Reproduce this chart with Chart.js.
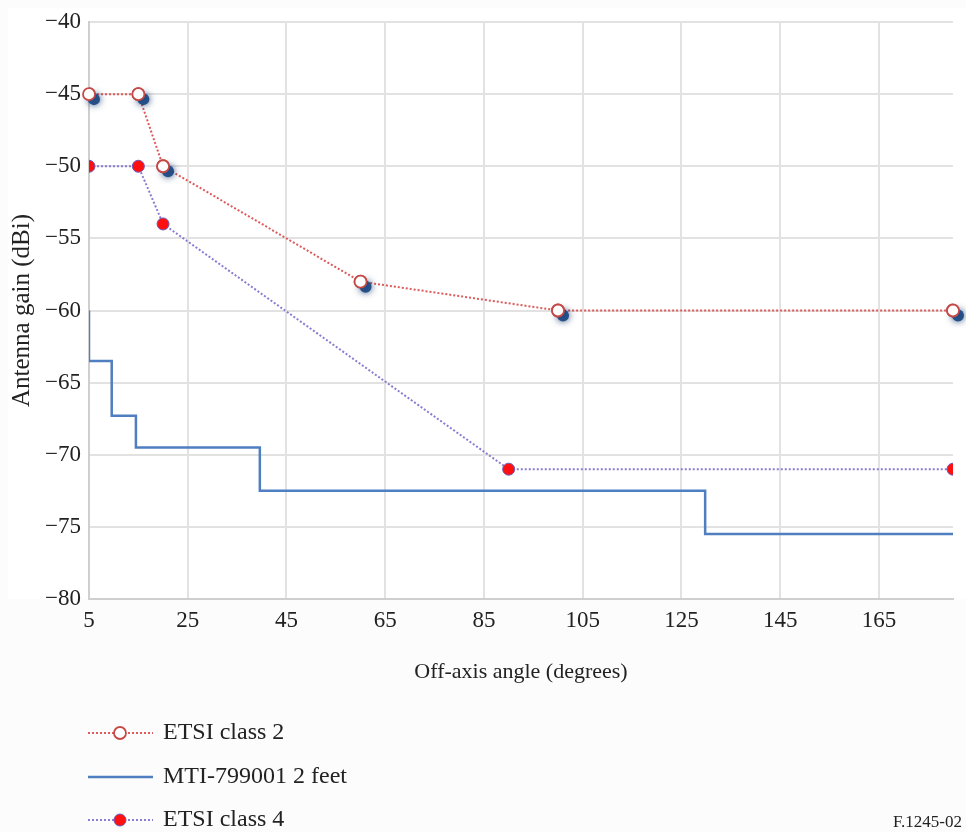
<!DOCTYPE html>
<html>
<head>
<meta charset="utf-8">
<script src="https://cdn.jsdelivr.net/npm/chart.js@4/dist/chart.umd.min.js"></script>
<style>
  html, body { margin: 0; padding: 0; background: #fcfcfc; }
  #wrap { width: 966px; height: 832px; position: relative; }
</style>
</head>
<body>
<div id="wrap"><canvas id="gain"></canvas></div>
<script>
  // Values
  const xTicks = [5, 25, 45, 65, 85, 105, 125, 145, 165];
  const etsi2Angle = [5, 15, 20, 60, 100, 180];
  const etsi2Gain = [-45, -45, -50, -58, -60, -60];
  const etsi4Angle = [5, 15, 20, 90, 180];
  const etsi4Gain = [-50, -50, -54, -71, -71];
  // MTI step pattern (corner points, stepped 'before')
  const mtiAngle = [5, 5, 9.6, 14.5, 39.6, 129.8, 180];
  const mtiGain = [-60, -63.5, -67.3, -69.5, -72.5, -75.5, -75.5];

  const serif = '"Liberation Serif", "DejaVu Serif", serif';
  const pts = (xs, ys) => xs.map((x, i) => ({ x: x, y: ys[i] }));
  const fmt = (v) => (v < 0 ? '\u2212' + Math.abs(v) : String(v));

  // White plot area + blue blurred shadows under ETSI class 2 markers
  const plotBg = {
    id: 'plotBg',
    beforeDraw(chart) {
      let { ctx, chartArea: a } = chart;
      ctx.save();
      ctx.fillStyle = '#ffffff';
      ctx.fillRect(8, 8, chart.width - 8, a.bottom - 8);
      ctx.restore();
    },
    afterDatasetsDraw(chart) {
      let ctx = chart.ctx,
        meta = chart.getDatasetMeta(0);
      ctx.save();
      meta.data.forEach((p) => {
        ctx.shadowColor = 'rgba(15,50,105,0.95)';
        ctx.shadowBlur = 7;
        ctx.fillStyle = 'rgba(25,70,130,0.9)';
        ctx.beginPath();
        ctx.arc(p.x + 5, p.y + 5, 6, 0, Math.PI * 2);
        ctx.fill();
      });
      ctx.restore();
      // redraw class 2 markers on top of the shadows
      meta.data.forEach((p) => p.draw(ctx, chart.chartArea));
    }
  };

  // Vertical legend at bottom-left plus the figure reference
  const stackLegend = {
    id: 'stackLegend',
    afterDraw(chart) {
      let ctx = chart.ctx,
        rows = [733, 777, 820];
      ctx.save();
      chart.data.datasets.forEach((ds, i) => {
        let y = rows[i];
        ctx.strokeStyle = ds.borderColor;
        ctx.lineWidth = ds.borderWidth;
        ctx.setLineDash(ds.borderDash || []);
        ctx.beginPath();
        ctx.moveTo(88, y);
        ctx.lineTo(153, y);
        ctx.stroke();
        ctx.setLineDash([]);
        if (ds.pointRadius > 0) {
          ctx.fillStyle = ds.pointBackgroundColor;
          ctx.strokeStyle = ds.pointBorderColor;
          ctx.lineWidth = ds.pointBorderWidth;
          ctx.beginPath();
          ctx.arc(120, y, ds.pointRadius, 0, Math.PI * 2);
          ctx.fill();
          ctx.stroke();
        }
        ctx.fillStyle = '#222';
        ctx.font = '24px ' + serif;
        ctx.textBaseline = 'middle';
        ctx.textAlign = 'left';
        ctx.fillText(ds.label, 163, y);
      });
      ctx.font = '17px ' + serif;
      ctx.fillText('F.1245-02', 893, 823);
      ctx.restore();
    }
  };

  new Chart(document.getElementById('gain').getContext('2d'), {
    type: 'scatter',
    data: {
      datasets: [
        {
          label: 'ETSI class 2',
          data: pts(etsi2Angle, etsi2Gain),
          showLine: true,
          borderColor: '#dd5a5a',
          borderWidth: 2,
          borderDash: [2, 2],
          pointRadius: 6,
          pointBackgroundColor: '#ffffff',
          pointBorderColor: '#c44a48',
          pointBorderWidth: 1.8
        },
        {
          label: 'MTI-799001 2 feet',
          data: pts(mtiAngle, mtiGain),
          showLine: true,
          stepped: 'before',
          borderColor: '#4f7fc0',
          borderWidth: 2.5,
          pointRadius: 0
        },
        {
          label: 'ETSI class 4',
          data: pts(etsi4Angle, etsi4Gain),
          showLine: true,
          borderColor: '#8a7cd2',
          borderWidth: 2,
          borderDash: [2, 2],
          pointRadius: 6,
          pointBackgroundColor: '#ff1010',
          pointBorderColor: '#6a5ab8',
          pointBorderWidth: 1
        }
      ]
    },
    options: {
      responsive: true,
      maintainAspectRatio: false,
      animation: false,
      layout: { padding: { left: 0, top: 22, right: 13, bottom: 133 } },
      plugins: {
        legend: { display: false },
        tooltip: { enabled: false }
      },
      scales: {
        x: {
          type: 'linear',
          min: 5,
          max: 180,
          afterBuildTicks: (s) => { s.ticks = xTicks.map((v) => ({ value: v })); },
          afterFit: (s) => { s.height = 100; },
          grid: { color: '#e2e2e2', lineWidth: 2, drawTicks: false },
          border: { color: '#cfcfcf', width: 2 },
          ticks: { padding: 8, color: '#222', font: { family: serif, size: 23 }, maxRotation: 0 },
          title: {
            display: true,
            text: 'Off-axis angle (degrees)',
            color: '#222',
            font: { family: serif, size: 22 },
            padding: { top: 0, bottom: 14 }
          }
        },
        y: {
          min: -80,
          max: -40,
          afterFit: (s) => { s.width = 89; },
          grid: { color: '#e2e2e2', lineWidth: 2, drawTicks: false },
          border: { color: '#cfcfcf', width: 2 },
          ticks: {
            stepSize: 5,
            padding: 8,
            color: '#222',
            font: { family: serif, size: 23 },
            callback: (v) => fmt(v)
          },
          title: {
            display: true,
            text: 'Antenna gain (dBi)',
            color: '#222',
            font: { family: serif, size: 25 },
            padding: { top: 7, bottom: 0 }
          }
        }
      }
    },
    plugins: [plotBg, stackLegend]
  });
</script>
</body>
</html>
